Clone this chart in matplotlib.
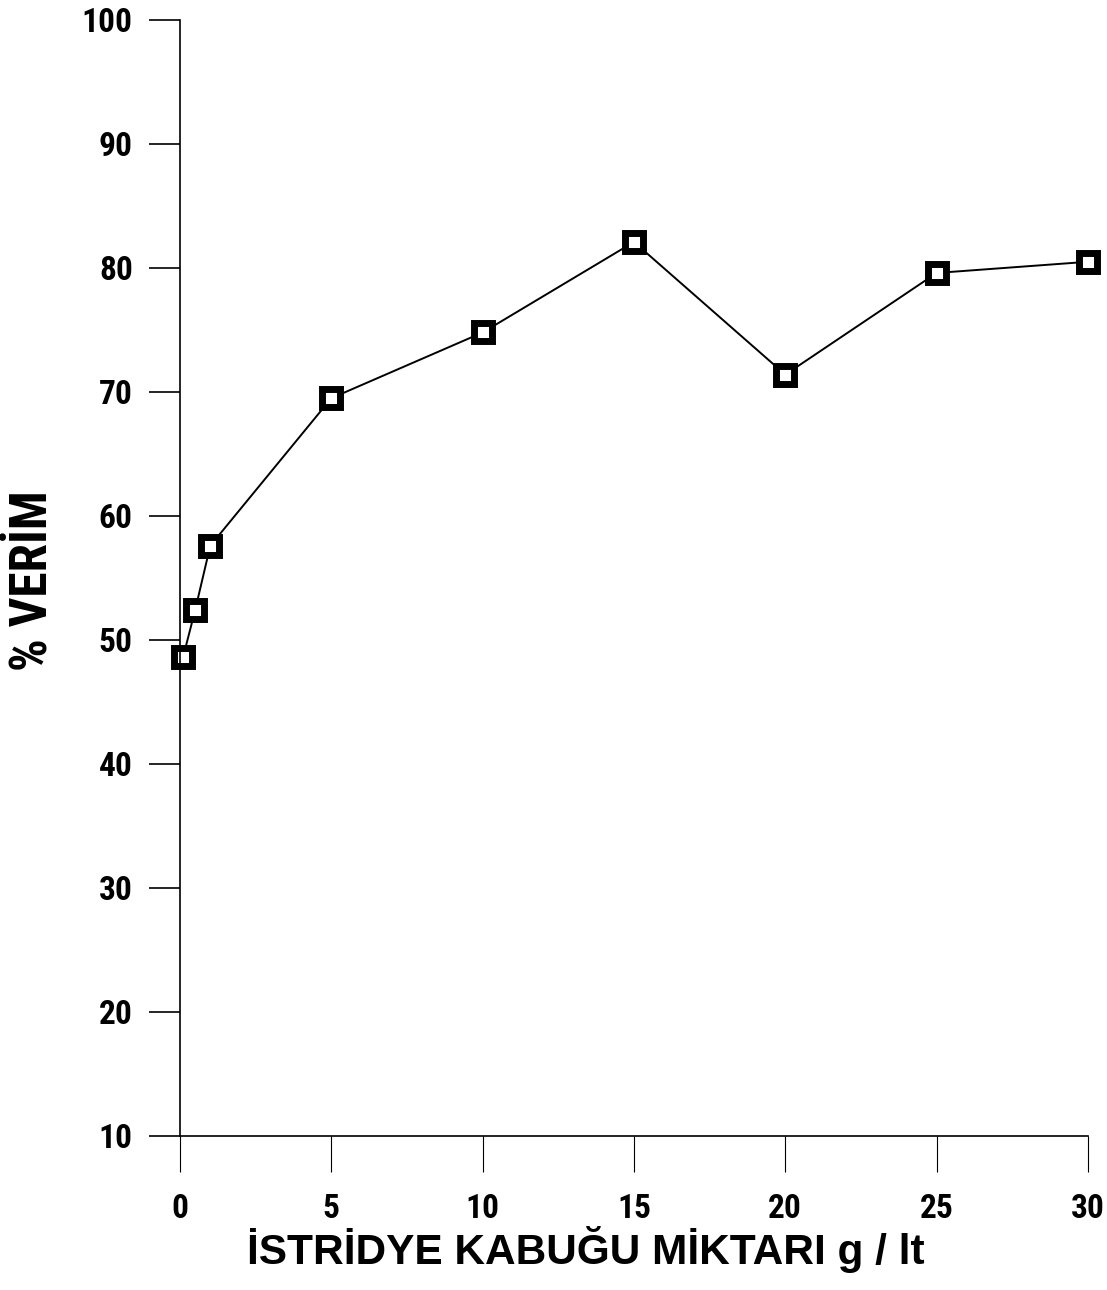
import matplotlib
matplotlib.use("Agg")
import matplotlib.pyplot as plt

# data
oyster_shell = [0.1, 0.5, 1, 5, 10, 15, 20, 25, 30]      # g / lt
yield_pct    = [48.6, 52.4, 57.6, 69.5, 74.8, 82.1, 71.4, 79.6, 80.5]

x_ticks = [0, 5, 10, 15, 20, 25, 30]
y_ticks = [10, 20, 30, 40, 50, 60, 70, 80, 90, 100]

# condensed face if one is around, else plain Liberation Sans
NARROW = ["Liberation Sans Narrow", "Roboto Condensed", "Open Sans Condensed",
          "Liberation Sans", "DejaVu Sans"]
WIDE = ["Liberation Sans", "DejaVu Sans"]
plt.rcParams["font.family"] = NARROW

fig = plt.figure(figsize=(11.07, 12.9), dpi=100, facecolor="white")
ax = fig.add_axes([0.1626, 0.1194, 0.8202, 0.8651])

ax.plot(oyster_shell, yield_pct, color="black", lw=1.4,
        marker="s", ms=13, mew=5, mfc="white", mec="black", clip_on=False)

ax.set_xlim(0, 30)
ax.set_ylim(10, 100)
ax.set_xticks(x_ticks)
ax.set_yticks(y_ticks)

for side in ("top", "right"):
    ax.spines[side].set_visible(False)
for side in ("left", "bottom"):
    ax.spines[side].set_linewidth(1.2)

ax.tick_params(axis="y", direction="out", length=22, width=1.2, pad=12,
               labelsize=24)
ax.tick_params(axis="x", direction="out", length=26, width=0.8, pad=15,
               labelsize=24)
for lab in ax.get_xticklabels() + ax.get_yticklabels():
    lab.set_fontweight("bold")

ax.set_xlabel("İSTRİDYE KABUĞU MİKTARI g / lt", fontsize=30.5,
              fontweight="bold", family=WIDE)
ax.xaxis.set_label_coords(0.447, -0.081)
fig.text(33 / 1107, 1 - 581 / 1290, "% VERİM", rotation=90, fontsize=37,
         fontweight="bold", ha="center", va="center")

plt.savefig("out.png", dpi=100, facecolor="white")
